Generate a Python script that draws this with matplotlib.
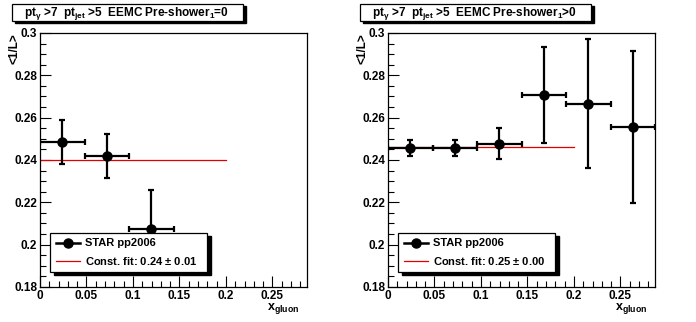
import numpy as np
import matplotlib.pyplot as plt
from matplotlib.patches import Rectangle
from matplotlib.lines import Line2D
from matplotlib.ticker import MultipleLocator

plt.rcParams['font.family'] = ['Liberation Sans', 'DejaVu Sans']
plt.rcParams['font.weight'] = 'bold'
plt.rcParams['mathtext.fontset'] = 'custom'
plt.rcParams['mathtext.rm'] = 'Liberation Sans:bold'
plt.rcParams['mathtext.it'] = 'Liberation Sans:bold'
plt.rcParams['mathtext.bf'] = 'Liberation Sans:bold'

# x_gluon bins (6 bins from 0 to ~0.287)
bin_edges = np.linspace(0, 0.2871, 7)
bin_centers = 0.5 * (bin_edges[:-1] + bin_edges[1:])
half_width = 0.5 * (bin_edges[1] - bin_edges[0])

# <1/L> per bin, pre-shower_1 = 0 and > 0
y_ps0 = [0.2485, 0.2420, 0.2075]
err_ps0 = [0.0106, 0.0104, 0.0183]
y_ps1 = [0.2458, 0.2458, 0.2477, 0.2707, 0.2665, 0.2557]
err_ps1 = [0.0037, 0.0037, 0.0072, 0.0226, 0.0305, 0.0358]

titles = [r'pt$_{\gamma}$ >7  pt$_{\mathrm{jet}}$ >5  EEMC Pre-shower$_{1}$=0',
          r'pt$_{\gamma}$ >7  pt$_{\mathrm{jet}}$ >5  EEMC Pre-shower$_{1}$>0']
fit_max = 0.2

W, H = 696, 322
fig = plt.figure(figsize=(W / 100, H / 100), dpi=100)


def px(x, y):
    return x / W, 1 - y / H


def const_fit(x, y, e):
    x, y, e = map(np.asarray, (x, y, e))
    sel = x < fit_max
    w = 1 / e[sel] ** 2
    return np.sum(w * y[sel]) / np.sum(w), 1 / np.sqrt(np.sum(w))


panels = [(40, y_ps0, err_ps0), (388, y_ps1, err_ps1)]
for k, (x0, yv, ev) in enumerate(panels):
    ax = fig.add_axes([x0 / W, 35 / H, 267 / W, 254 / H])
    xc = bin_centers[:len(yv)]
    ax.errorbar(xc, yv, xerr=half_width, yerr=ev, fmt='o', color='black',
                ms=6.5, elinewidth=1.6, capsize=2.5, capthick=1.6, zorder=3)
    p0, dp0 = const_fit(xc, yv, ev)
    ax.plot([0, fit_max], [p0, p0], color='#e00000', lw=0.9, zorder=2)

    ax.set_xlim(0, 0.2871)
    ax.set_ylim(0.18, 0.3)
    ax.xaxis.set_major_locator(MultipleLocator(0.05))
    ax.xaxis.set_minor_locator(MultipleLocator(0.01))
    ax.yaxis.set_major_locator(MultipleLocator(0.02))
    ax.yaxis.set_minor_locator(MultipleLocator(0.005))
    ax.xaxis.set_major_formatter(plt.FuncFormatter(lambda v, p: f'{v:g}'))
    ax.yaxis.set_major_formatter(plt.FuncFormatter(lambda v, p: f'{v:g}'))
    ax.tick_params(which='both', direction='in', top=False, right=False,
                   labelsize=8.5, width=0.8, pad=2)
    ax.tick_params(which='major', length=8)
    ax.tick_params(which='minor', length=4)
    for s in ax.spines.values():
        s.set_linewidth(0.9)

    ax.text(-0.097, 1.0, '<1/L>', transform=ax.transAxes, rotation=90,
            ha='center', va='top', fontsize=8.5)
    ax.text(0.97, -(301 - 287) / 254, r'x$_{\mathrm{gluon}}$', transform=ax.transAxes,
            ha='right', va='top', fontsize=9)

    # legend box with drop shadow
    lx0, ly0 = (50 - 40) / 267, (287 - 272) / 254
    lw_, lh_ = 157 / 267, 39 / 254
    ax.add_patch(Rectangle((lx0 + 4 / 267, ly0 - 3 / 254), lw_, lh_,
                           transform=ax.transAxes, facecolor='black',
                           edgecolor='black', zorder=5, clip_on=False))
    ax.add_patch(Rectangle((lx0, ly0), lw_, lh_, transform=ax.transAxes,
                           facecolor='white', edgecolor='black', lw=0.9,
                           zorder=6, clip_on=False))
    ya, yb = (287 - 243) / 254, (287 - 261) / 254
    ax.add_line(Line2D([(56 - 40) / 267, (80 - 40) / 267], [ya, ya],
                       transform=ax.transAxes, color='black', lw=1.8, zorder=7))
    ax.add_line(Line2D([(68 - 40) / 267], [ya], transform=ax.transAxes,
                       marker='o', ms=6.5, color='black', zorder=7))
    ax.add_line(Line2D([(56 - 40) / 267, (80 - 40) / 267], [yb, yb],
                       transform=ax.transAxes, color='#e00000', lw=0.9, zorder=7))
    ax.text((85 - 40) / 267, ya, 'STAR pp2006', transform=ax.transAxes,
            ha='left', va='center', fontsize=8, zorder=8)
    ax.text((85 - 40) / 267, yb, f'Const. fit: {p0:.2f} $\\pm$ {dp0:.2f}',
            transform=ax.transAxes, ha='left', va='center', fontsize=8, zorder=8)

    # title box with drop shadow
    bx0 = x0 - 28
    sx, sy = px(bx0 + 3, 23)
    fig.patches.append(Rectangle((sx, sy), 231 / W, 17 / H, transform=fig.transFigure,
                                 facecolor='black', edgecolor='black', zorder=1))
    tx, ty = px(bx0, 21)
    fig.patches.append(Rectangle((tx, ty), 231 / W, 17 / H, transform=fig.transFigure,
                                 facecolor='white', edgecolor='black', lw=0.9, zorder=2))
    fig.text(*px(bx0 + 12, 15.5), titles[k], ha='left', va='baseline',
             fontsize=8.5, zorder=3)

fig.savefig('out.png', dpi=100)
